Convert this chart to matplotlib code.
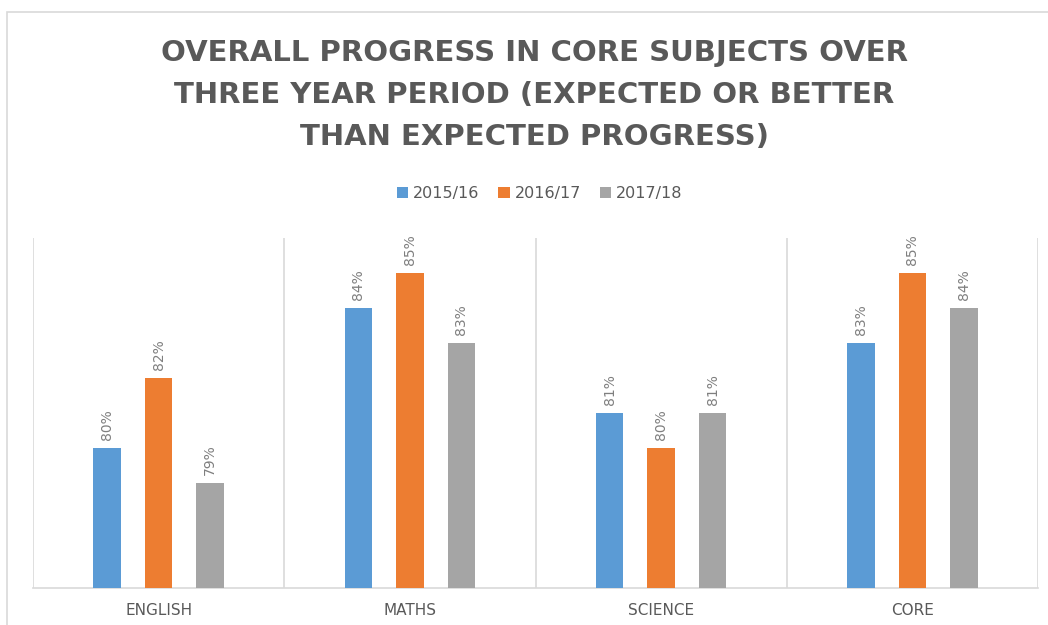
import matplotlib.pyplot as plt
import numpy as np
from matplotlib.patches import Rectangle

subjects = ["ENGLISH", "MATHS", "SCIENCE", "CORE"]
years = ["2015/16", "2016/17", "2017/18"]
y1516 = [80, 84, 81, 83]
y1617 = [82, 85, 80, 85]
y1718 = [79, 83, 81, 84]
series = [y1516, y1617, y1718]
colors = ["#5B9BD5", "#ED7D31", "#A5A5A5"]

fig = plt.figure(figsize=(10.48, 6.25), dpi=100)
ax = fig.add_axes([0.0315, 0.0592, 0.959, 0.5598])

# chart border
fig.patches.append(Rectangle((7 / 1048, -0.1), 1.2, 1.1 - 12 / 625, transform=fig.transFigure,
                             fill=False, edgecolor="#D9D9D9", linewidth=1.2))

x = np.arange(len(subjects))
w = 0.11
offsets = [-0.205, 0, 0.205]
for vals, off, c, lab in zip(series, offsets, colors, years):
    bars = ax.bar(x + off, [v - 76 for v in vals], w, bottom=76, color=c, label=lab, zorder=3)
    for b, v in zip(bars, vals):
        ax.text(b.get_x() + b.get_width() / 2, v + 0.22, f"{v}%", rotation=90,
                ha="center", va="bottom", fontsize=10, color="#7F7F7F")

ax.set_xlim(-0.5, 3.5)
ax.set_ylim(76, 86)
ax.set_yticks([])
ax.set_xticks(x)
ax.set_xticklabels(subjects, fontsize=11, color="#595959", fontstretch="expanded")
ax.tick_params(axis="x", length=0, pad=11)
for xv in np.arange(-0.5, 4, 1):
    ax.axvline(xv, color="#D9D9D9", linewidth=1.2, zorder=1)
for s in ["top", "right", "left"]:
    ax.spines[s].set_visible(False)
ax.spines["bottom"].set_color("#D9D9D9")
ax.spines["bottom"].set_linewidth(1.2)

fig.text(0.51, 0.848, "OVERALL PROGRESS IN CORE SUBJECTS OVER\nTHREE YEAR PERIOD (EXPECTED OR BETTER\nTHAN EXPECTED PROGRESS)",
         ha="center", va="center", fontsize=21, fontweight="bold", color="#595959",
         linespacing=1.62)
fig.legend(loc="center", bbox_to_anchor=(0.515, 0.69), ncol=3, frameon=False,
           fontsize=11.5, handlelength=0.7, handleheight=0.7, handletextpad=0.3,
           columnspacing=1.2, labelcolor="#595959")

fig.savefig("out.png", dpi=100)
